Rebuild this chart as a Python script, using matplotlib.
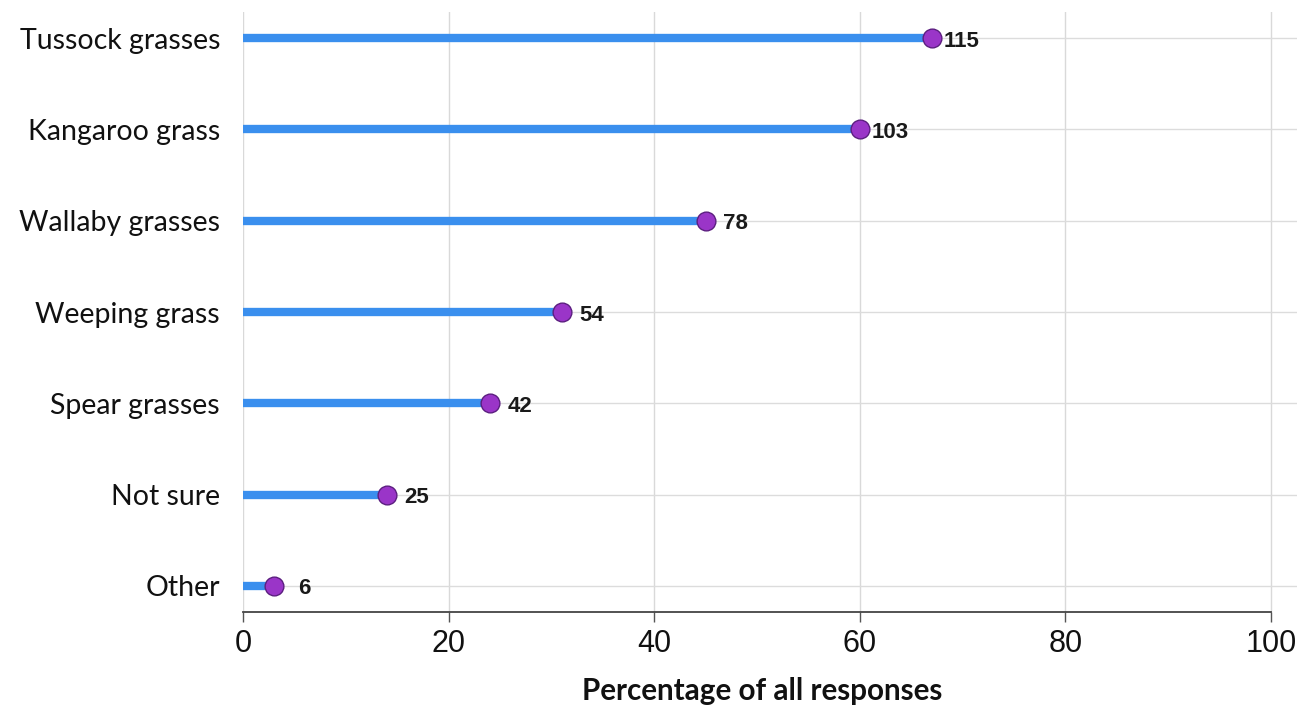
import matplotlib
matplotlib.use("Agg")
import matplotlib.pyplot as plt
from matplotlib.transforms import offset_copy

plt.rcParams["font.family"] = ["Liberation Sans", "DejaVu Sans"]

# Survey data: grass types named by respondents
categories = ["Tussock grasses", "Kangaroo grass", "Wallaby grasses",
              "Weeping grass", "Spear grasses", "Not sure", "Other"]
percentages = [67, 60, 45, 31, 24, 14, 3]
counts = [115, 103, 78, 54, 42, 25, 6]
x_ticks = [0, 20, 40, 60, 80, 100]

W, H = 1297, 710
fig = plt.figure(figsize=(W / 100, H / 100), dpi=100)
ax = fig.add_axes([243 / W, 1 - 612 / H, 1 - 243 / W, 600 / H])

n = len(categories)
ypos = list(range(n))

ax.set_xlim(0, (W - 243) / 10.28)
ax.set_ylim(n - 1 + 0.285, -0.285)

# Grid
ax.set_axisbelow(True)
for xv in x_ticks:
    ax.axvline(xv, color="#d9d9d9", lw=1.0, zorder=0)
for y in ypos:
    ax.axhline(y, color="#dcdcdc", lw=1.0, zorder=0)

# Lollipops
blue = "#3a8fee"
purple = "#9a35c8"
for y, v in zip(ypos, percentages):
    ax.plot([0, v], [y, y], color=blue, lw=6, solid_capstyle="butt", zorder=2)
ax.scatter(percentages, ypos, s=13.5 ** 2, color=purple, edgecolor="#5c1f80",
           linewidth=1.0, zorder=3)

# Count labels next to each marker
for y, v, c in zip(ypos, percentages, counts):
    tr = offset_copy(ax.transData, fig=fig, x=30 * 0.72, y=-3 * 0.72, units="points")
    ax.text(v, y, str(c), transform=tr, ha="center", va="center",
            fontsize=16, fontweight="bold", color="#1a1a1a", zorder=4)

# Axes styling
for side in ("top", "right", "left"):
    ax.spines[side].set_visible(False)
ax.spines["bottom"].set_bounds(0, 100)
ax.spines["bottom"].set_color("#444444")
ax.spines["bottom"].set_linewidth(1.3)

ax.set_xticks(x_ticks)
ax.set_xticklabels([str(t) for t in x_ticks], fontsize=22)
ax.tick_params(axis="x", length=7, width=1.0, color="#555555", pad=5, labelcolor="#111111")

ax.set_yticks(ypos)
ax.set_yticklabels(categories, fontfamily="Lato", fontsize=20.5, color="#111111")
ax.tick_params(axis="y", length=0, pad=16.5)

fig.text(762 / W, 1 - 691 / H, "Percentage of all responses", ha="center",
         va="center", family="Lato", fontweight="bold", fontsize=21.3, color="#111111")

fig.savefig("out.png", dpi=100)
